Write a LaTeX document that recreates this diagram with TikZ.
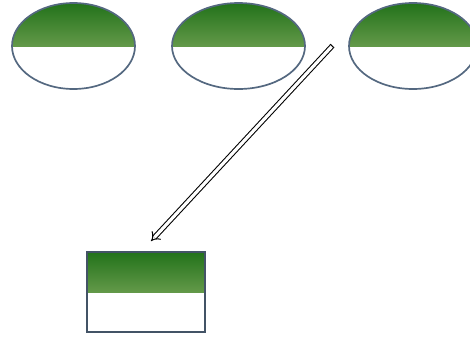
\documentclass[tikz,border=0pt]{standalone}
\usetikzlibrary{shapes.geometric,arrows.meta}
\definecolor{rimblue}{RGB}{84,104,128}
\definecolor{darkgreen}{RGB}{34,114,26}
\definecolor{palegreen}{RGB}{178,200,130}
\begin{document}
\begin{tikzpicture}[
  halfegg/.style={ellipse, draw=rimblue, line width=2.4pt, inner sep=0pt,
    minimum height=4.3cm, fill=white,
    path picture={\shade[top color=darkgreen, bottom color=palegreen, middle color=darkgreen!55!palegreen]
      (path picture bounding box.north west) rectangle (path picture bounding box.east);}},
  halfbox/.style={rectangle, draw=rimblue!80!black, line width=2.6pt, inner sep=0pt,
    minimum width=5.9cm, minimum height=4cm, fill=white,
    path picture={\shade[top color=darkgreen, bottom color=palegreen, middle color=darkgreen!55!palegreen]
      (path picture bounding box.north west) rectangle (path picture bounding box.east);}}
]
\useasboundingbox (0,0) rectangle (23.5,-17.05);

% top row
\node[halfegg, minimum width=6.15cm] (egga) at (3.675,-2.3) {};
\node[halfegg, minimum width=6.65cm] (eggb) at (11.925,-2.3) {};
\node[halfegg, minimum width=6.4cm] (eggc) at (20.65,-2.3) {};

% target
\node[halfbox] (box) at (7.3,-14.6) {};

% hollow arrow
\draw[double=white, double distance=4.5pt, line width=1.5pt, {Bar[width=7.5pt,line width=1.5pt,sep=-0.75pt]}-{Implies}]
  ([xshift=-0.8cm]eggc.west) -- ([xshift=0.25cm,yshift=0.5cm]box.north);

\end{tikzpicture}
\end{document}
